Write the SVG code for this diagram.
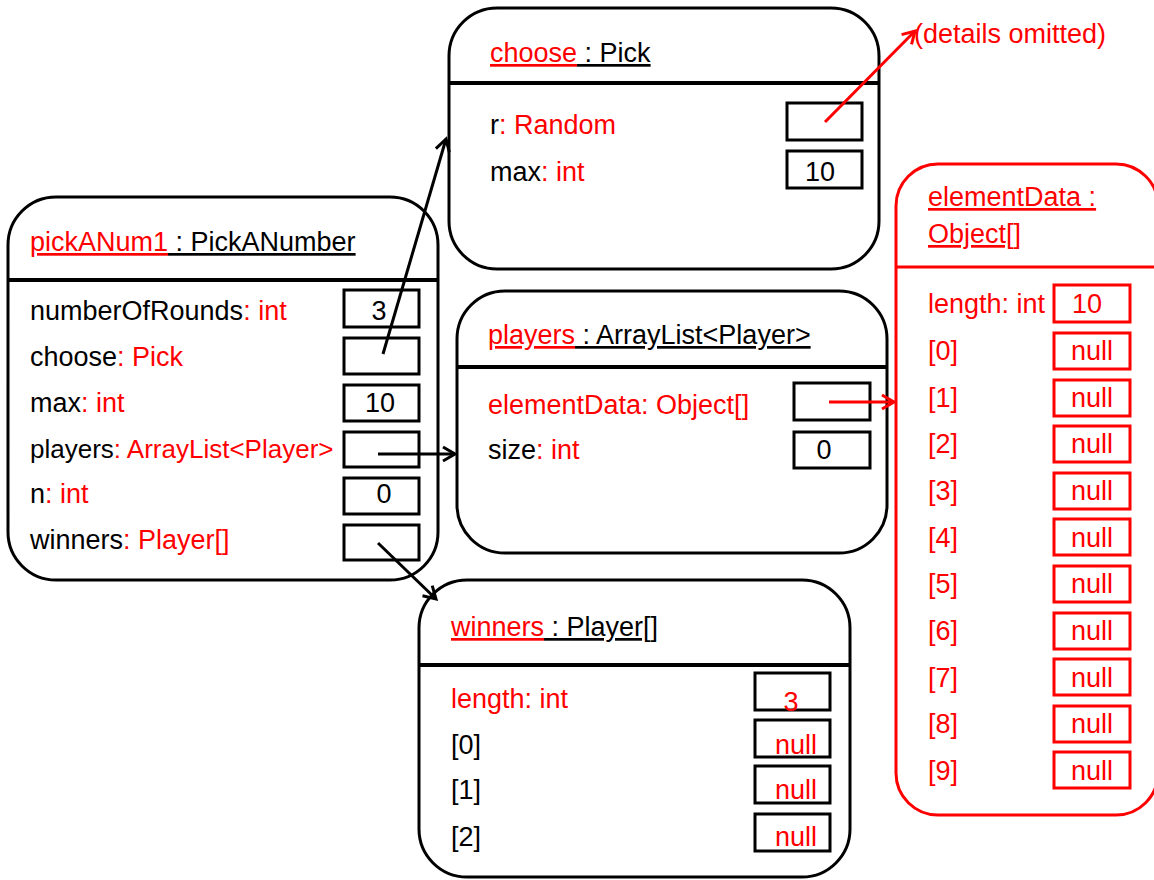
<svg xmlns="http://www.w3.org/2000/svg" width="1154" height="880" viewBox="0 0 1154 880">
<style>
text{font-family:"Liberation Sans",Arial,sans-serif;font-size:27px;fill:#000}
.r{fill:#ff0000}
.u{text-decoration:underline}
.node{fill:#fff;stroke:#000;stroke-width:3}
.rnode{fill:#fff;stroke:#ff0000;stroke-width:3}
.sep{stroke:#000;stroke-width:4}
.rsep{stroke:#ff0000;stroke-width:3}
.vb{fill:none;stroke:#000;stroke-width:3}
.rvb{fill:none;stroke:#ff0000;stroke-width:3}
.c{text-anchor:middle}
.conn{fill:none;stroke:#000;stroke-width:3}
.rconn{fill:none;stroke:#ff0000;stroke-width:3}
</style>
<defs>
<marker id="ah" markerUnits="userSpaceOnUse" markerWidth="18" markerHeight="18" refX="15" refY="9" orient="auto">
<path d="M3,2 L15,9 L3,16" fill="none" stroke="#000" stroke-width="3"/>
</marker>
<marker id="rah" markerUnits="userSpaceOnUse" markerWidth="18" markerHeight="18" refX="15" refY="9" orient="auto">
<path d="M3,2 L15,9 L3,16" fill="none" stroke="#ff0000" stroke-width="3"/>
</marker>
</defs>
<rect width="1154" height="880" fill="#fff"/>

<g id="choose">
<rect class="node" x="449" y="8" width="430" height="261" rx="48"/>
<line class="sep" x1="449" y1="83" x2="879" y2="83"/>
<text x="490" y="62"><tspan class="r u">choose</tspan><tspan class="u"> : Pick</tspan></text>
<text x="490" y="134">r<tspan class="r">: Random</tspan></text>
<rect class="vb" x="787" y="103" width="75" height="37"/>
<text x="490" y="181">max<tspan class="r">: int</tspan></text>
<rect class="vb" x="787" y="151" width="75" height="37"/>
<text class="c" x="820" y="181">10</text>
</g>

<g id="details">
<text class="r" x="914" y="43">(details omitted)</text>
</g>

<g id="pickANum1">
<rect class="node" x="8" y="197" width="430" height="383" rx="48"/>
<line class="sep" x1="8" y1="280" x2="438" y2="280"/>
<text x="30" y="251"><tspan class="r u">pickANum1</tspan><tspan class="u"> : PickANumber</tspan></text>
<text x="30" y="320">numberOfRounds<tspan class="r">: int</tspan></text>
<rect class="vb" x="344" y="290" width="75" height="37"/>
<text class="c" x="379" y="320">3</text>
<text x="30" y="366">choose<tspan class="r">: Pick</tspan></text>
<rect class="vb" x="344" y="338" width="75" height="36"/>
<text x="30" y="412">max<tspan class="r">: int</tspan></text>
<rect class="vb" x="344" y="385" width="75" height="36"/>
<text class="c" x="380" y="412">10</text>
<text x="30" y="458" style="font-size:26px">players<tspan class="r">: ArrayList&lt;Player&gt;</tspan></text>
<rect class="vb" x="344" y="432" width="75" height="35"/>
<text x="30" y="503">n<tspan class="r">: int</tspan></text>
<rect class="vb" x="344" y="478" width="75" height="36"/>
<text class="c" x="384" y="503">0</text>
<text x="30" y="549">winners<tspan class="r">: Player[]</tspan></text>
<rect class="vb" x="344" y="525" width="75" height="35"/>
</g>

<g id="players">
<rect class="node" x="457" y="291" width="430" height="262" rx="48"/>
<line class="sep" x1="457" y1="367" x2="887" y2="367"/>
<text x="488" y="344"><tspan class="r u">players</tspan><tspan class="u"> : ArrayList&lt;Player&gt;</tspan></text>
<text class="r" x="488" y="414">elementData: Object[]</text>
<rect class="vb" x="794" y="383" width="76" height="37"/>
<text x="488" y="459">size<tspan class="r">: int</tspan></text>
<rect class="vb" x="794" y="432" width="76" height="36"/>
<text class="c" x="824" y="459">0</text>
</g>

<g id="winners">
<rect class="node" x="419" y="580" width="431" height="297" rx="48"/>
<line class="sep" x1="419" y1="665" x2="850" y2="665"/>
<text x="451" y="636"><tspan class="r u">winners</tspan><tspan class="u"> : Player[]</tspan></text>
<text class="r" x="451" y="708">length: int</text>
<rect class="vb" x="755" y="673" width="75" height="37"/>
<text class="r c" x="791" y="711">3</text>
<text x="451" y="754">[0]</text>
<rect class="vb" x="755" y="720" width="75" height="37"/>
<text class="r" x="775" y="754">null</text>
<text x="451" y="799">[1]</text>
<rect class="vb" x="755" y="766" width="75" height="37"/>
<text class="r" x="775" y="799">null</text>
<text x="451" y="846">[2]</text>
<rect class="vb" x="755" y="814" width="75" height="37"/>
<text class="r" x="775" y="846">null</text>
</g>

<g id="elementData">
<rect class="rnode" x="896" y="164" width="262" height="651" rx="42"/>
<line class="rsep" x1="896" y1="267" x2="1158" y2="267"/>
<text class="r u" x="928" y="206">elementData :</text>
<text class="r u" x="928" y="243">Object[]</text>
<text class="r" x="928" y="313">length: int</text>
<rect class="rvb" x="1054" y="285" width="76" height="37"/>
<text class="r c" x="1087" y="313">10</text>
<g>
<text class="r" x="928" y="360">[0]</text><rect class="rvb" x="1054" y="333" width="76" height="36"/><text class="r c" x="1092" y="360">null</text>
<text class="r" x="928" y="407">[1]</text><rect class="rvb" x="1054" y="380" width="76" height="36"/><text class="r c" x="1092" y="407">null</text>
<text class="r" x="928" y="453">[2]</text><rect class="rvb" x="1054" y="426" width="76" height="36"/><text class="r c" x="1092" y="453">null</text>
<text class="r" x="928" y="500">[3]</text><rect class="rvb" x="1054" y="473" width="76" height="36"/><text class="r c" x="1092" y="500">null</text>
<text class="r" x="928" y="547">[4]</text><rect class="rvb" x="1054" y="519" width="76" height="36"/><text class="r c" x="1092" y="547">null</text>
<text class="r" x="928" y="593">[5]</text><rect class="rvb" x="1054" y="566" width="76" height="36"/><text class="r c" x="1092" y="593">null</text>
<text class="r" x="928" y="640">[6]</text><rect class="rvb" x="1054" y="613" width="76" height="36"/><text class="r c" x="1092" y="640">null</text>
<text class="r" x="928" y="687">[7]</text><rect class="rvb" x="1054" y="659" width="76" height="36"/><text class="r c" x="1092" y="687">null</text>
<text class="r" x="928" y="733">[8]</text><rect class="rvb" x="1054" y="706" width="76" height="36"/><text class="r c" x="1092" y="733">null</text>
<text class="r" x="928" y="780">[9]</text><rect class="rvb" x="1054" y="752" width="76" height="36"/><text class="r c" x="1092" y="780">null</text>
</g>
</g>

<g id="connectors">
<line class="conn" x1="383" y1="354" x2="446" y2="139" marker-end="url(#ah)"/>
<line class="conn" x1="378" y1="454" x2="455" y2="454" marker-end="url(#ah)"/>
<line class="conn" x1="378" y1="543" x2="436" y2="599" marker-end="url(#ah)"/>
<line class="rconn" x1="829" y1="402" x2="894" y2="402" marker-end="url(#rah)"/>
<line class="rconn" x1="825" y1="122" x2="915" y2="31" marker-end="url(#rah)"/>
</g>
</svg>
